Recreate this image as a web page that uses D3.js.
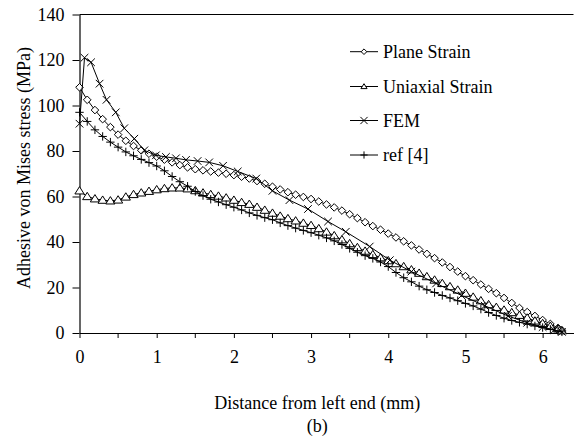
<!DOCTYPE html>
<html>
<head>
<meta charset="utf-8">
<script src="https://cdn.jsdelivr.net/npm/d3@7"></script>
<style>
  html, body { margin: 0; padding: 0; background: #fff; }
  svg { display: block; }
  text { font-family: "Liberation Serif", "Times New Roman", serif; fill: #000; }
</style>
</head>
<body>
<svg id="chart" width="574" height="438"></svg>
<script>
// Sample positions along the adhesive (mm) for the analytical models and ref [4]
const distanceMm = [0, 0.1, 0.2, 0.3, 0.4, 0.5, 0.6, 0.7, 0.8, 0.9, 1.0, 1.1, 1.2, 1.3, 1.4, 1.5,
  1.6, 1.7, 1.8, 1.9, 2.0, 2.1, 2.2, 2.3, 2.4, 2.5, 2.6, 2.7, 2.8, 2.9, 3.0, 3.1, 3.2, 3.3,
  3.4, 3.5, 3.6, 3.7, 3.8, 3.9, 4.0, 4.1, 4.2, 4.3, 4.4, 4.5, 4.6, 4.7, 4.8, 4.9, 5.0, 5.1,
  5.2, 5.3, 5.4, 5.5, 5.6, 5.7, 5.8, 5.9, 6.0, 6.1, 6.2, 6.25];

const planeStrain = [108, 102.5, 98, 94, 90.5, 87.2, 84.5, 82.2, 80.3, 78.8, 77.5, 76.2, 75, 73.8,
  72.8, 72, 71.5, 71, 70.5, 70, 69.4, 68.7, 67.9, 66.8, 65.6, 64.3, 63.1, 61.9, 60.8, 59.8,
  58.9, 57.8, 56.5, 55.2, 53.8, 52.2, 50.5, 48.7, 47, 45.4, 43.7, 42, 40.3, 38.5, 36.7, 34.8,
  32.9, 31, 29, 27, 25, 23.2, 21.3, 19.4, 17.5, 15.4, 13.2, 11, 9.2, 7.5, 5.7, 4, 2.2, 1.2];

const uniaxialStrain = [62.5, 60, 59, 58.4, 58.1, 58.5, 59.8, 60.9, 61.6, 62.3, 63, 63.5, 63.8,
  63.8, 63.4, 62.6, 61.6, 60.9, 60.2, 59.4, 58.4, 57.4, 56.6, 55.3, 54, 52.7, 51.4, 50.3, 49.3,
  48.3, 47.3, 45.9, 44.4, 42.8, 41, 39.3, 37.6, 36, 34.5, 33.1, 31.8, 30.5, 29.2, 27.8, 26.3,
  24.8, 23.3, 21.8, 20.4, 18.9, 17.5, 15.8, 14.2, 12.5, 11.3, 10.1, 9, 7.8, 6.6, 5.3, 4.2, 3,
  1.8, 1];

const ref4 = [97, 93, 89.3, 86.4, 83.9, 81.7, 79.6, 77.9, 76.3, 74.9, 73.4, 71.3, 68.8, 66.5,
  64.5, 62.2, 60.4, 58.8, 57.6, 56.4, 55.3, 54.1, 52.8, 51.7, 50.7, 49.8, 48.4, 47.2, 46.1,
  45.1, 44.1, 43, 41.8, 40.5, 38.9, 37.2, 35.5, 34, 32.8, 31.2, 29.2, 26.6, 24.3, 22.5, 20.6,
  19, 17.8, 16.5, 15.4, 14.2, 13, 11.9, 10.5, 9, 7.7, 6.5, 5.5, 4.7, 3.9, 3.1, 2.4, 1.6, 0.8, 0.5];

// FEM nodes are unevenly spaced (finer mesh near the ends)
const femDistanceMm = [0, 0.065, 0.15, 0.26, 0.35, 0.47, 0.58, 0.71, 0.84, 0.99, 1.12, 1.25, 1.38,
  1.53, 1.68, 1.86, 2.05, 2.29, 2.5, 2.72, 2.96, 3.22, 3.45, 3.76, 4.02, 4.3, 4.62, 4.95, 5.25,
  5.55, 5.8, 6.0, 6.15, 6.25];
const fem = [92, 121, 119, 109.6, 102.5, 97, 90, 85.4, 80.3, 78.1, 77.4, 76.8, 76.1, 75.6, 75,
  73.5, 71, 67.9, 62.5, 58.4, 54.5, 49, 44.5, 38, 32, 27, 21.8, 16.5, 12, 7.5, 4.5, 2.6, 1.3, 0.5];

const seriesNames = ["Plane Strain", "Uniaxial Strain", "FEM", "ref [4]"];
const xTicks = [0, 1, 2, 3, 4, 5, 6];
const xMinorTicks = [0.5, 1.5, 2.5, 3.5, 4.5, 5.5];
const yTicks = [0, 20, 40, 60, 80, 100, 120, 140];

const svg = d3.select("#chart");
const x = d3.scaleLinear().domain([0, 6.4]).range([79.5, 573.5]);
const y = d3.scaleLinear().domain([0, 140]).range([333, 14.5]);

// marker shapes, centred at the origin
const markers = {
  diamond: r => `M0,${-r}L${r},0L0,${r}L${-r},0Z`,
  triangle: r => `M0,${-r}L${r * 1.1},${r * 0.75}L${-r * 1.1},${r * 0.75}Z`,
  cross: r => `M${-r},${-r}L${r},${r}M${-r},${r}L${r},${-r}`,
  plus: r => `M${-r},0L${r},0M0,${-r}L0,${r}`
};

const series = [
  { name: seriesNames[0], xs: distanceMm, ys: planeStrain, shape: "diamond", size: 3.8, fill: "#fff" },
  { name: seriesNames[1], xs: distanceMm, ys: uniaxialStrain, shape: "triangle", size: 4.2, fill: "#fff" },
  { name: seriesNames[2], xs: femDistanceMm, ys: fem, shape: "cross", size: 3.8, fill: "none" },
  { name: seriesNames[3], xs: distanceMm, ys: ref4, shape: "plus", size: 4.2, fill: "none" }
];

// frame: top border
svg.append("line")
  .attr("x1", x(0)).attr("x2", x(6.4))
  .attr("y1", y(140)).attr("y2", y(140))
  .attr("stroke", "#000").attr("stroke-width", 1.2);

// y axis
const yAxis = svg.append("g")
  .attr("transform", `translate(${x(0)},0)`)
  .call(d3.axisLeft(y).tickValues(yTicks).tickFormat(d3.format("d"))
    .tickSize(7).tickPadding(8).tickSizeOuter(0));

// x axis with minor ticks at half millimetres
const xAxis = svg.append("g")
  .attr("transform", `translate(0,${y(0)})`)
  .call(d3.axisBottom(x).tickValues(xTicks).tickFormat(d3.format("d"))
    .tickSize(5).tickPadding(12).tickSizeOuter(0));
xAxis.selectAll(".minor").data(xMinorTicks).enter().append("line")
  .attr("class", "minor")
  .attr("x1", d => x(d)).attr("x2", d => x(d))
  .attr("y1", 0).attr("y2", 5)
  .attr("stroke", "#000");

[yAxis, xAxis].forEach(g => {
  g.attr("font-family", "Liberation Serif").attr("font-size", 18);
  g.select(".domain").attr("stroke", "#000").attr("stroke-width", 1.2);
  g.selectAll(".tick line").attr("stroke", "#000");
  g.selectAll("text").attr("font-family", "Liberation Serif").attr("font-size", 18).attr("fill", "#000");
});

const line = d3.line().x(d => x(d[0])).y(d => y(d[1]));

series.forEach(s => {
  const pts = s.xs.map((v, i) => [v, s.ys[i]]);
  svg.append("path")
    .datum(pts)
    .attr("d", line)
    .attr("fill", "none")
    .attr("stroke", "#000")
    .attr("stroke-width", 1);
  svg.append("g").selectAll("path").data(pts).enter().append("path")
    .attr("transform", d => `translate(${x(d[0])},${y(d[1])})`)
    .attr("d", markers[s.shape](s.size))
    .attr("fill", s.fill)
    .attr("stroke", "#000")
    .attr("stroke-width", 1);
});

// legend
const legendRows = [51.7, 86.5, 120.5, 155];
const legend = svg.append("g");
series.forEach((s, i) => {
  const ly = legendRows[i];
  legend.append("line")
    .attr("x1", 350).attr("x2", 378).attr("y1", ly).attr("y2", ly)
    .attr("stroke", "#000").attr("stroke-width", 1);
  legend.append("path")
    .attr("transform", `translate(364,${ly})`)
    .attr("d", markers[s.shape](s.shape === "cross" || s.shape === "plus" ? 3.6 : 2.8))
    .attr("fill", s.fill)
    .attr("stroke", "#000").attr("stroke-width", 1);
  legend.append("text")
    .attr("x", 383).attr("y", ly + 6.3)
    .attr("font-size", 18)
    .text(s.name);
});

// axis titles and panel label
svg.append("text")
  .attr("x", (x(0) + 573) / 2 - 9).attr("y", 409)
  .attr("text-anchor", "middle").attr("font-size", 18)
  .text("Distance from left end (mm)");
svg.append("text")
  .attr("x", (x(0) + 573) / 2 - 9).attr("y", 432)
  .attr("text-anchor", "middle").attr("font-size", 18)
  .text("(b)");
svg.append("text")
  .attr("transform", "translate(30,168) rotate(-90)")
  .attr("text-anchor", "middle").attr("font-size", 18)
  .text("Adhesive von Mises stress (MPa)");
</script>
</body>
</html>
